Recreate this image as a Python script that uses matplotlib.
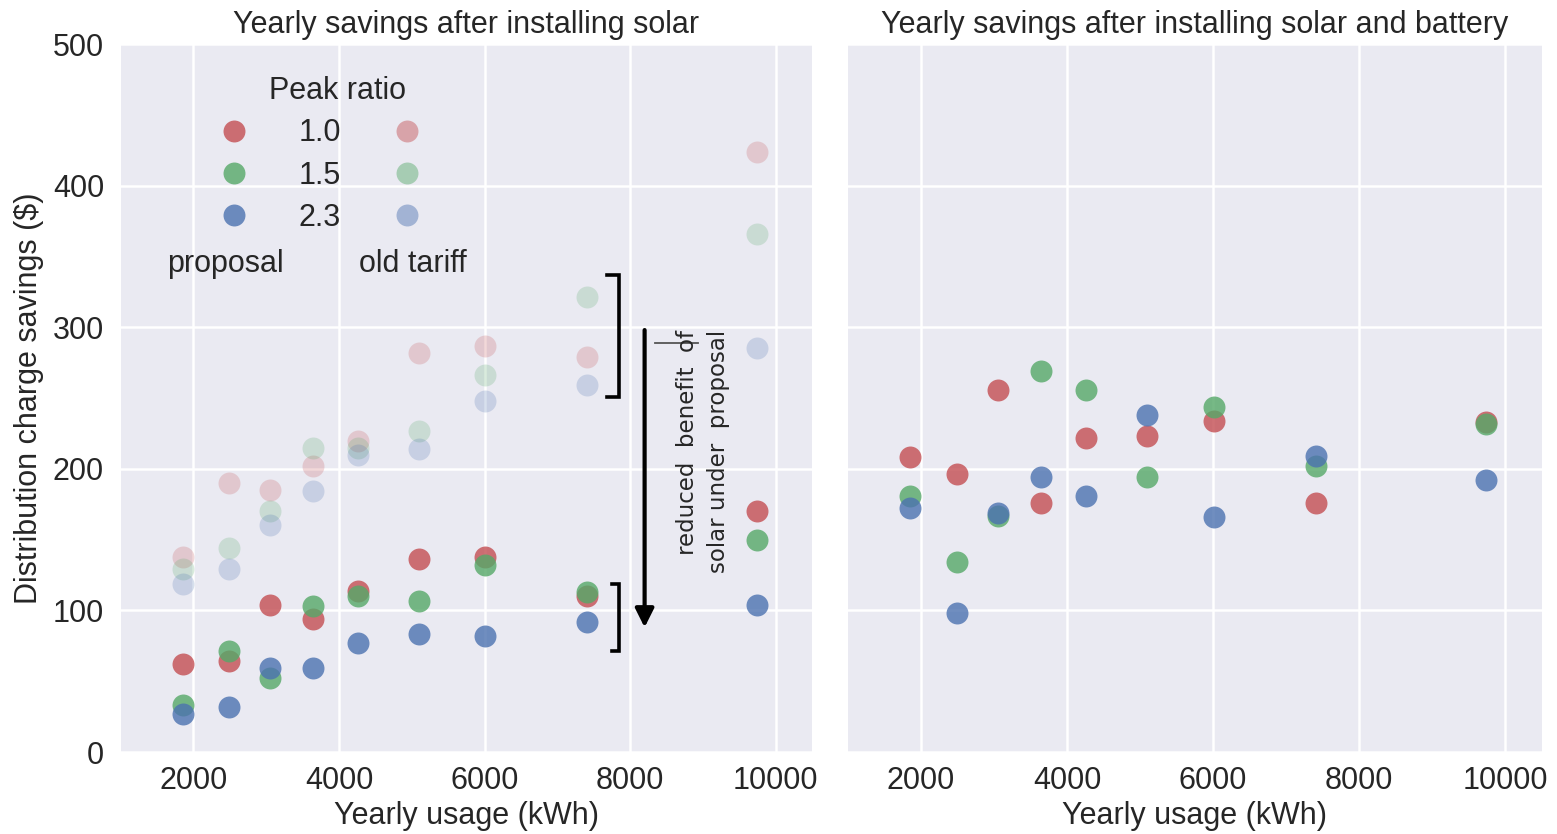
import matplotlib.pyplot as plt
from matplotlib.lines import Line2D

# yearly usage (kWh) of the sample households
usage = [1850, 2490, 3055, 3645, 4260, 5095, 6010, 7410, 9740]
peak_ratios = ['1.0', '1.5', '2.3']

# savings with solar only, proposed tariff
solar_prop = [
    [62, 64, 104, 94, 114, 136, 138, 110, 170],
    [33, 71, 52, 103, 110, 107, 132, 113, 150],
    [27, 32, 59, 59, 77, 83, 82, 92, 104],
]
# savings with solar only, old tariff
solar_old = [
    [138, 190, 185, 202, 220, 282, 287, 279, 424],
    [129, 144, 170, 215, 215, 227, 266, 321, 366],
    [119, 129, 160, 184, 210, 214, 248, 259, 285],
]
# savings with solar and battery, proposed tariff
battery_prop = [
    [208, 196, 256, 176, 222, 223, 234, 176, 233],
    [181, 134, 167, 269, 256, 194, 244, 202, 232],
    [172, 98, 169, 194, 181, 238, 166, 209, 192],
]

colors = ['#C44E52', '#55A868', '#4C72B0']

plt.rcParams['font.family'] = ['Liberation Sans', 'DejaVu Sans']
plt.rcParams['font.size'] = 22
plt.rcParams['text.color'] = '#262626'
plt.rcParams['axes.labelcolor'] = '#262626'
plt.rcParams['xtick.color'] = '#262626'
plt.rcParams['ytick.color'] = '#262626'

fig = plt.figure(figsize=(15.57, 8.34), dpi=100)
ax1 = fig.add_axes([0.0775, 0.0983, 0.4440, 0.8489])
ax2 = fig.add_axes([0.5446, 0.0983, 0.4457, 0.8489], sharey=ax1)

for ax in (ax1, ax2):
    ax.set_facecolor('#EAEAF2')
    for s in ax.spines.values():
        s.set_visible(False)
    ax.grid(True, color='white', lw=1.8)
    ax.set_axisbelow(True)
    ax.tick_params(length=0)
    ax.tick_params(axis='x', pad=10)
    ax.tick_params(axis='y', pad=12)
    ax.set_xlim(1000, 10500)
    ax.set_xticks([2000, 4000, 6000, 8000, 10000])
    ax.set_xlabel('Yearly usage (kWh)', labelpad=4)

ax1.set_ylim(0, 500)
ax1.set_yticks([0, 100, 200, 300, 400, 500])
plt.setp(ax2.get_yticklabels(), visible=False)
ax1.set_ylabel('Distribution charge savings ($)', labelpad=6)

# left panel: old tariff faded underneath, proposal on top
for vals, c in zip(solar_old, colors):
    ax1.scatter(usage, vals, s=250, color=c, alpha=0.22, lw=0)
for vals, c in zip(solar_prop, colors):
    ax1.scatter(usage, vals, s=250, color=c, alpha=0.8, lw=0)

for vals, c in zip(battery_prop, colors):
    ax2.scatter(usage, vals, s=250, color=c, alpha=0.8, lw=0)

ax1.set_title('Yearly savings after installing solar', pad=8, fontsize=22)
ax2.set_title('Yearly savings after installing solar and battery', pad=8,
              fontsize=22)

# legend: proposal markers with labels, old tariff markers without
handles = [Line2D([], [], ls='', marker='o', ms=15.8, mew=0, color=c, alpha=0.8)
           for c in colors]
handles += [Line2D([], [], ls='', marker='o', ms=15.8, mew=0, color=c, alpha=0.45)
            for c in colors]
labels = peak_ratios + ['', '', '']
leg = ax1.legend(handles, labels, ncol=2, title='Peak ratio', frameon=False,
                 loc='center', bbox_to_anchor=(0.314, 0.844),
                 handletextpad=1.1, columnspacing=1.17, labelspacing=0.4,
                 title_fontsize=22)
ax1.text(2440, 345, 'proposal', ha='center', va='center')
ax1.text(5010, 345, 'old tariff', ha='center', va='center')

# brackets and arrow for the drop at 7410 kWh
ax1.plot([7680, 7850, 7850, 7680], [337, 337, 251, 251], color='k', lw=2.6,
         solid_joinstyle='miter')
ax1.plot([7750, 7850, 7850, 7750], [119, 119, 71, 71], color='k', lw=2.6,
         solid_joinstyle='miter')
ax1.annotate('', xy=(8200, 88), xytext=(8200, 298),
             arrowprops=dict(arrowstyle='-|>', lw=3, color='k',
                             mutation_scale=28, shrinkA=0, shrinkB=0))
ax1.text(9000, 298, 'reduced  benefit  of\nsolar under  proposal',
         rotation=90, ha='center', va='top', multialignment='right',
         fontsize=16.5, family='DejaVu Sans', linespacing=1.45)
ax1.plot([8340, 8930], [289, 289], color='#555555', lw=1.3)

fig.savefig('out.png', dpi=100)
